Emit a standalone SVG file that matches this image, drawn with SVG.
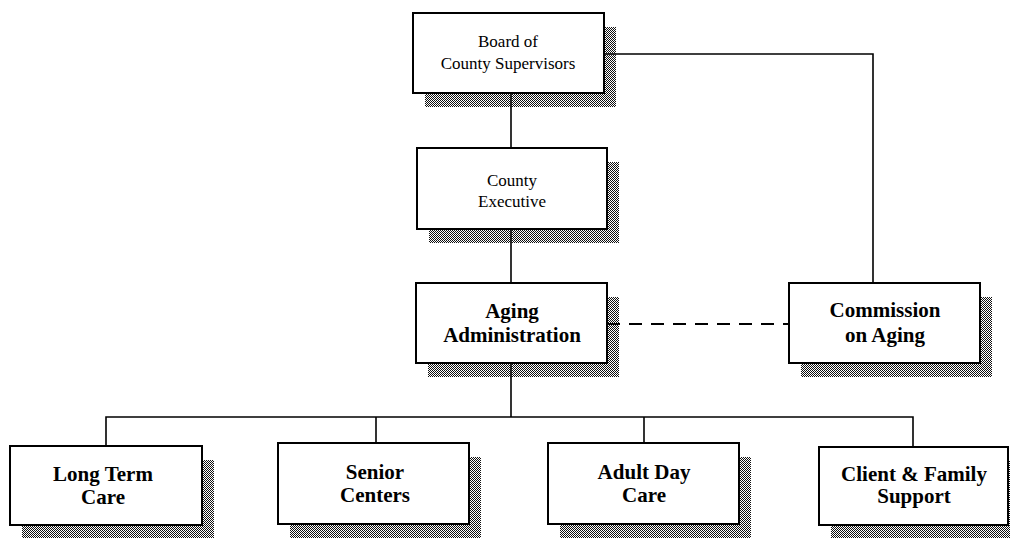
<svg xmlns="http://www.w3.org/2000/svg" width="1010" height="538" viewBox="0 0 1010 538">
  <defs>
    <!-- fine dithered halftone used for drop shadows -->
    <pattern id="dither" width="2" height="2" patternUnits="userSpaceOnUse">
      <rect x="0" y="0" width="1" height="1" fill="#111"/>
      <rect x="1" y="1" width="1" height="1" fill="#111"/>
    </pattern>
  </defs>
  <style>
    .shadow { fill: url(#dither); }
    .box { fill: #fff; stroke: #000; stroke-width: 2; }
    .wire { fill: none; stroke: #000; stroke-width: 1.6; }
    .dash { fill: none; stroke: #000; stroke-width: 1.8; stroke-dasharray: 13 9; }
    .reg { font-family: "Liberation Serif", "Times New Roman", serif; font-size: 17px; fill: #000; text-anchor: middle; }
    .bold { font-family: "Liberation Serif", "Times New Roman", serif; font-size: 21px; font-weight: bold; fill: #000; text-anchor: middle; }
  </style>
  <rect width="1010" height="538" fill="#fff"/>

  <!-- connectors -->
  <g id="connectors">
    <path class="wire" d="M511 93 V148"/>
    <path class="wire" d="M511 229 V283"/>
    <path class="wire" d="M604 54 H873 V283"/>
    <path class="dash" d="M607 324 H789"/>
    <path class="wire" d="M511 363 V417"/>
    <path class="wire" d="M106 446 V417 H913 V447"/>
    <path class="wire" d="M376 417 V443"/>
    <path class="wire" d="M644 417 V443"/>
  </g>

  <g id="board">
    <rect class="shadow" x="425" y="27" width="191" height="80"/>
    <rect class="box" x="413" y="13" width="191" height="80"/>
    <text class="reg" x="508" y="47">Board of</text>
    <text class="reg" x="508" y="69">County Supervisors</text>
  </g>

  <g id="county-executive">
    <rect class="shadow" x="429" y="162" width="190" height="81"/>
    <rect class="box" x="417" y="148" width="190" height="81"/>
    <text class="reg" x="512" y="186">County</text>
    <text class="reg" x="512" y="207">Executive</text>
  </g>

  <g id="aging-administration">
    <rect class="shadow" x="428" y="297" width="191" height="80"/>
    <rect class="box" x="416" y="283" width="191" height="80"/>
    <text class="bold" x="512" y="318">Aging</text>
    <text class="bold" x="512" y="342">Administration</text>
  </g>

  <g id="commission-on-aging">
    <rect class="shadow" x="801" y="297" width="191" height="80"/>
    <rect class="box" x="789" y="283" width="191" height="80"/>
    <text class="bold" x="885" y="317">Commission</text>
    <text class="bold" x="885" y="342">on Aging</text>
  </g>

  <g id="long-term-care">
    <rect class="shadow" x="22" y="460" width="192" height="79"/>
    <rect class="box" x="10" y="446" width="192" height="79"/>
    <text class="bold" x="103" y="481">Long Term</text>
    <text class="bold" x="103" y="504">Care</text>
  </g>

  <g id="senior-centers">
    <rect class="shadow" x="290" y="457" width="191" height="81"/>
    <rect class="box" x="278" y="443" width="191" height="81"/>
    <text class="bold" x="375" y="479">Senior</text>
    <text class="bold" x="375" y="502">Centers</text>
  </g>

  <g id="adult-day-care">
    <rect class="shadow" x="560" y="457" width="191" height="81"/>
    <rect class="box" x="548" y="443" width="191" height="81"/>
    <text class="bold" x="644" y="479">Adult Day</text>
    <text class="bold" x="644" y="502">Care</text>
  </g>

  <g id="client-family-support">
    <rect class="shadow" x="831" y="461" width="189" height="78"/>
    <rect class="box" x="819" y="447" width="189" height="78"/>
    <text class="bold" x="914" y="481">Client &amp; Family</text>
    <text class="bold" x="914" y="503">Support</text>
  </g>
</svg>
